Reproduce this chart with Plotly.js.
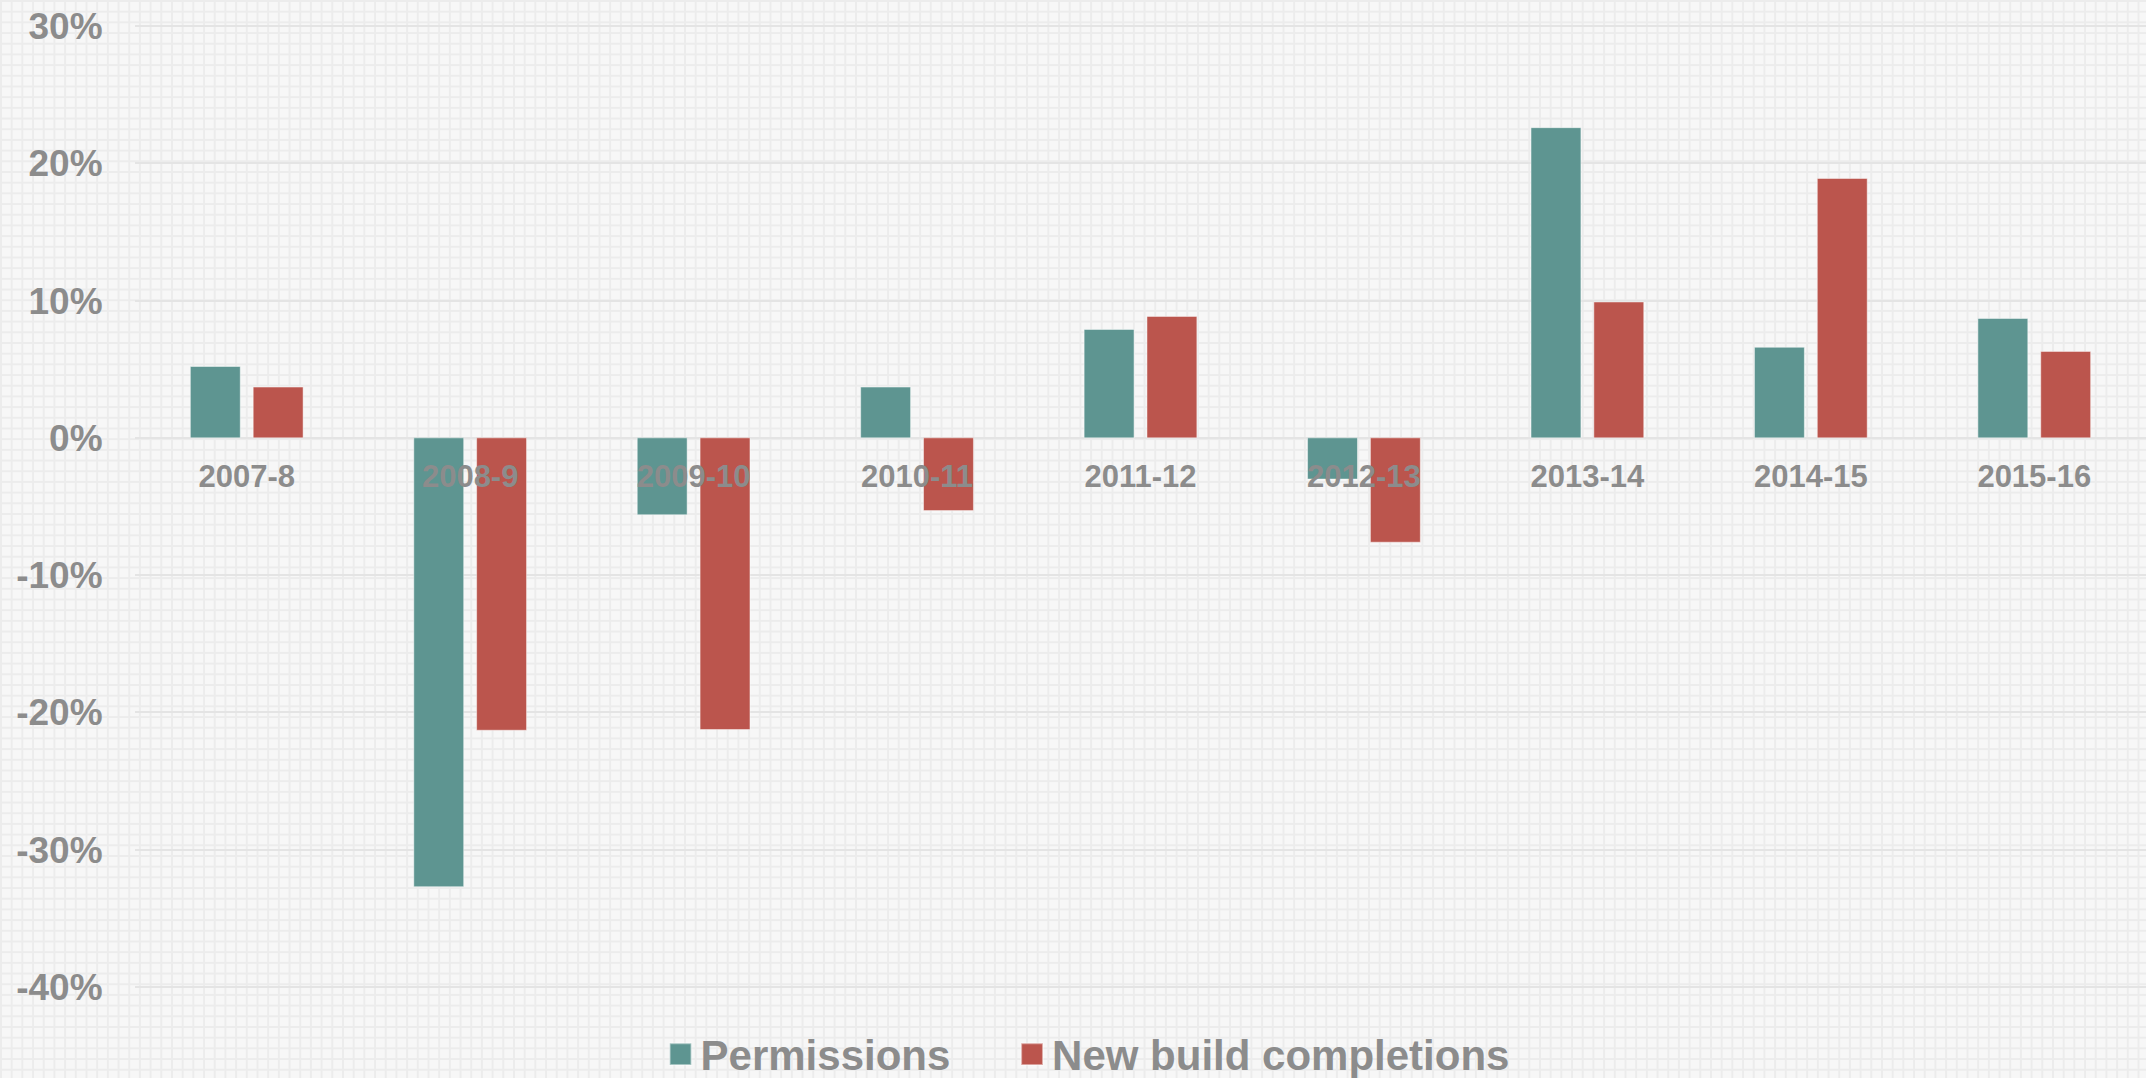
<!DOCTYPE html>
<html>
<head>
<meta charset="utf-8">
<script src="https://cdn.plot.ly/plotly-3.0.1.min.js"></script>
<style>
  html, body {
    margin: 0;
    padding: 0;
    overflow: hidden;
    background-color: #f7f7f7;
    background-image:
      linear-gradient(#ececec 2px, transparent 2px),
      linear-gradient(90deg, #ececec 2px, transparent 2px);
    background-size: 10.7px 10.7px;
  }
  #chart { width: 2146px; height: 1078px; }
  .legendpoints path { transform: translate(20px, 0px) scale(1.8); }
</style>
</head>
<body>
<div id="chart"></div>
<script>
const years = ["2007-8", "2008-9", "2009-10", "2010-11", "2011-12", "2012-13", "2013-14", "2014-15", "2015-16"];
const permissions = [5.2, -32.7, -5.6, 3.7, 7.9, -3.0, 22.6, 6.6, 8.7];
const completions = [3.7, -21.3, -21.25, -5.3, 8.85, -7.6, 9.9, 18.9, 6.3];
const yTickVals = [-40, -30, -20, -10, 0, 10, 20, 30];
const yTickText = ["-40%", "-30%", "-20%", "-10%", "0%", "10%", "20%", "30%"];

const textGray = "#8c8c8c";
const fontFamily = "'Liberation Sans', Arial, sans-serif";

const traces = [
  {
    type: "bar",
    name: "Permissions",
    x: years,
    y: permissions,
    legend: "legend",
    marker: { color: "#5e9591", line: { color: "rgba(255,255,255,0.45)", width: 1 } },
    hoverinfo: "x+y"
  },
  {
    type: "bar",
    name: "New build completions",
    x: years,
    y: completions,
    legend: "legend2",
    marker: { color: "#bb554d", line: { color: "rgba(255,255,255,0.45)", width: 1 } },
    hoverinfo: "x+y"
  }
];

const yMin = -40.3, yMax = 30.3;

const legendFont = { family: fontFamily, size: 42, color: textGray, weight: 700 };

const layout = {
  width: 2146,
  height: 1078,
  margin: { l: 135, r: 0, t: 22, b: 87, pad: 0 },
  paper_bgcolor: "rgba(0,0,0,0)",
  plot_bgcolor: "rgba(0,0,0,0)",
  barmode: "group",
  bargap: 0.4375,
  bargroupgap: 0.206,
  font: { family: fontFamily, color: textGray },
  xaxis: {
    type: "category",
    anchor: "free",
    position: (0 - yMin) / (yMax - yMin),
    showgrid: false,
    showline: false,
    zeroline: false,
    ticks: "outside",
    ticklen: 11,
    tickcolor: "rgba(0,0,0,0)",
    tickfont: { family: fontFamily, size: 31, color: textGray, weight: 700 },
    fixedrange: true
  },
  yaxis: {
    range: [yMin, yMax],
    tickvals: yTickVals,
    ticktext: yTickText,
    showgrid: true,
    gridcolor: "#e4e4e4",
    gridwidth: 2,
    zeroline: true,
    zerolinecolor: "#e4e4e4",
    zerolinewidth: 2,
    showline: false,
    ticks: "outside",
    ticklen: 24,
    tickcolor: "rgba(0,0,0,0)",
    tickfont: { family: fontFamily, size: 37, color: textGray, weight: 700 },
    fixedrange: true
  },
  showlegend: true,
  legend: {
    orientation: "h",
    xref: "container",
    yref: "container",
    x: 0.3078,
    xanchor: "left",
    y: 0.022,
    yanchor: "middle",
    bgcolor: "rgba(0,0,0,0)",
    borderwidth: 0,
    font: legendFont
  },
  legend2: {
    orientation: "h",
    xref: "container",
    yref: "container",
    x: 0.4716,
    xanchor: "left",
    y: 0.022,
    yanchor: "middle",
    bgcolor: "rgba(0,0,0,0)",
    borderwidth: 0,
    font: legendFont
  }
};

Plotly.newPlot("chart", traces, layout, { displayModeBar: false, responsive: false });
</script>
</body>
</html>
